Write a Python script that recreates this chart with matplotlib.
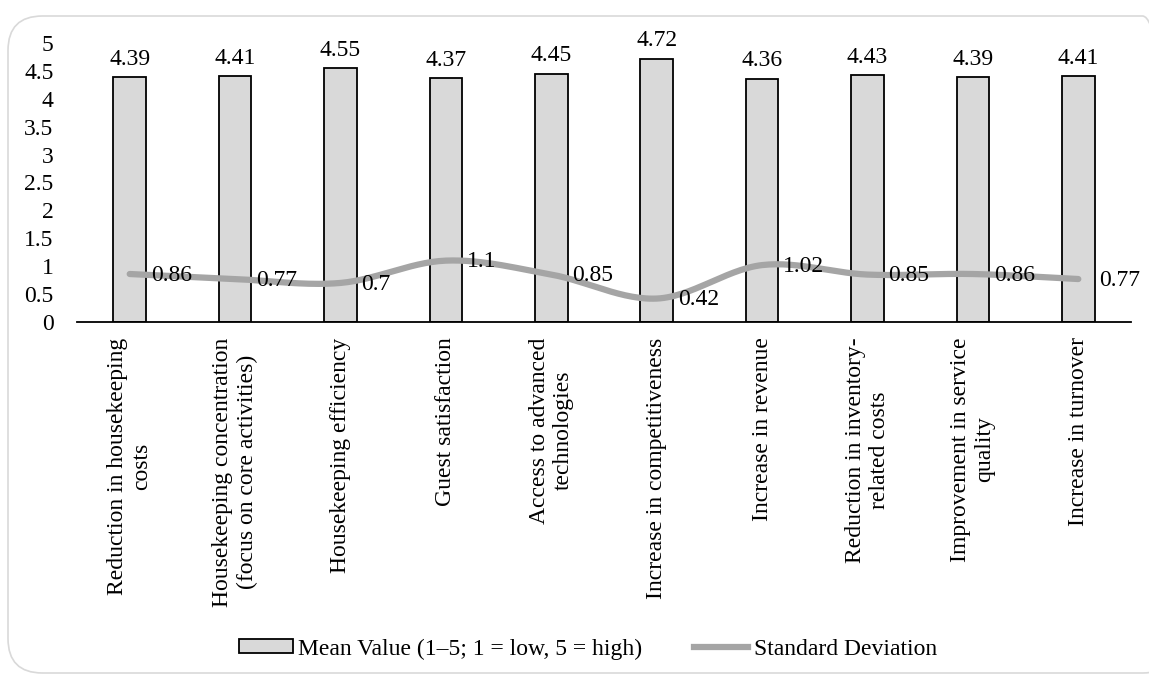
import numpy as np
import matplotlib
matplotlib.use("Agg")
import matplotlib.pyplot as plt
from matplotlib.patches import FancyBboxPatch, Patch
from matplotlib.lines import Line2D

categories = [
    "Reduction in housekeeping\ncosts",
    "Housekeeping concentration\n(focus on core activities)",
    "Housekeeping efficiency",
    "Guest satisfaction",
    "Access to advanced\ntechnologies",
    "Increase in competitiveness",
    "Increase in revenue",
    "Reduction in inventory-\nrelated costs",
    "Improvement in service\nquality",
    "Increase in turnover",
]
mean_values = [4.39, 4.41, 4.55, 4.37, 4.45, 4.72, 4.36, 4.43, 4.39, 4.41]
std_values = [0.86, 0.77, 0.70, 1.10, 0.85, 0.42, 1.02, 0.85, 0.86, 0.77]
std_labels = ["0.86", "0.77", "0.7", "1.1", "0.85", "0.42", "1.02", "0.85", "0.86", "0.77"]
y_ticks = [0, 0.5, 1, 1.5, 2, 2.5, 3, 3.5, 4, 4.5, 5]
y_tick_labels = ["0", "0.5", "1", "1.5", "2", "2.5", "3", "3.5", "4", "4.5", "5"]

plt.rcParams["font.family"] = ["Liberation Serif", "DejaVu Serif"]
FS = 17

W, H = 1149, 679
fig = plt.figure(figsize=(W / 100, H / 100), dpi=100)

# rounded frame around the chart area
frame = FancyBboxPatch((8 / W, 6 / H), (W + 20) / W, (H - 22) / H,
                       boxstyle="round,pad=0,rounding_size=0.03",
                       transform=fig.transFigure, facecolor="none",
                       edgecolor="#D9D9D9", linewidth=1.2, zorder=-1,
                       mutation_aspect=W / H)
fig.patches.append(frame)

ax = fig.add_axes([77 / W, 1 - 322 / H, (1131 - 77) / W, (322 - 43) / H])
ax.set_facecolor("none")

x = np.arange(len(categories))
ax.bar(x, mean_values, width=0.31, color="#D9D9D9", edgecolor="black",
       linewidth=1.3, zorder=2)
for xi, v in zip(x, mean_values):
    ax.text(xi, v + 0.13, f"{v:.2f}", ha="center", va="bottom", fontsize=FS)


def catmull_rom(xs, ys, n=30):
    px = np.concatenate([[2 * xs[0] - xs[1]], xs, [2 * xs[-1] - xs[-2]]])
    py = np.concatenate([[2 * ys[0] - ys[1]], ys, [2 * ys[-1] - ys[-2]]])
    out_x, out_y = [], []
    for i in range(1, len(px) - 2):
        t = np.linspace(0, 1, n, endpoint=False)
        for p, out in ((px, out_x), (py, out_y)):
            p0, p1, p2, p3 = p[i - 1], p[i], p[i + 1], p[i + 2]
            out.extend(0.5 * ((2 * p1) + (-p0 + p2) * t
                              + (2 * p0 - 5 * p1 + 4 * p2 - p3) * t ** 2
                              + (-p0 + 3 * p1 - 3 * p2 + p3) * t ** 3))
    out_x.append(xs[-1])
    out_y.append(ys[-1])
    return np.array(out_x), np.array(out_y)


sx, sy = catmull_rom(x.astype(float), np.array(std_values))
ax.plot(sx, sy, color="#A5A5A5", linewidth=4.5, solid_capstyle="round", zorder=3)
for xi, v, lab in zip(x, std_values, std_labels):
    ax.text(xi + 0.2, v - 0.02, lab, ha="left", va="center", fontsize=FS, zorder=4)

ax.set_xlim(-0.5, len(categories) - 0.5)
ax.set_ylim(0, 5)
ax.set_yticks(y_ticks)
ax.set_yticklabels(y_tick_labels, fontsize=FS)
ax.set_xticks(x)
ax.set_xticklabels(categories, rotation=90, fontsize=FS, ha="center",
                   va="top", multialignment="center", linespacing=1.2)
ax.tick_params(axis="both", length=0)
ax.tick_params(axis="y", pad=17)
ax.tick_params(axis="x", pad=11)
for side in ("top", "right", "left"):
    ax.spines[side].set_visible(False)
ax.spines["bottom"].set_linewidth(1.3)
ax.spines["bottom"].set_zorder(5)

handles = [
    Patch(facecolor="#D9D9D9", edgecolor="black", linewidth=1.3),
    Line2D([0], [0], color="#A5A5A5", linewidth=4.5),
]
labels = ["Mean Value (1–5; 1 = low, 5 = high)", "Standard Deviation"]
fig.legend(handles, labels, loc="center", bbox_to_anchor=(588 / W, 1 - 649 / H),
           ncol=2, frameon=False, fontsize=FS, handlelength=2.25,
           handletextpad=0.25, columnspacing=2.2, handleheight=0.55)

fig.savefig("out.png", dpi=100)
